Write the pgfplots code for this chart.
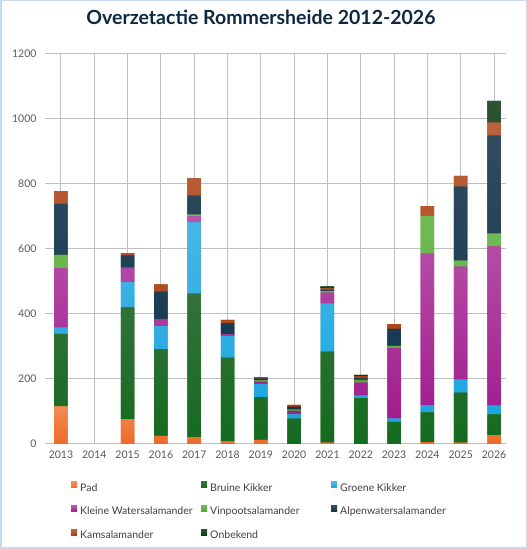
\documentclass[border=0pt]{standalone}
\usepackage{pgfplots}
\pgfplotsset{compat=1.18}
\usepackage{fontspec}
\setmainfont{Lato}
\definecolor{cPad}{HTML}{EE6A26}
\definecolor{cBruine}{HTML}{146B1E}
\definecolor{cGroene}{HTML}{1AA5DF}
\definecolor{cKleine}{HTML}{A01D8E}
\definecolor{cVin}{HTML}{4EAA2E}
\definecolor{cAlpen}{HTML}{0F3550}
\definecolor{cKams}{HTML}{A83C0C}
\definecolor{cOnb}{HTML}{0B3F12}
\definecolor{grid}{HTML}{D6E3F2}
\definecolor{frame}{HTML}{C5D9F1}
\definecolor{ticktext}{HTML}{595959}
\definecolor{legtext}{HTML}{404040}
\definecolor{titlec}{HTML}{0E2841}
\begin{document}
\begin{tikzpicture}[x=1pt,y=1pt]
\useasboundingbox (0,0) rectangle (527,549);
\fill[white] (0,0) rectangle (527,549);
\draw[frame, line width=1.5pt] (0.75,0.75) rectangle (526.25,548.25);
\begin{axis}[
  at={(45pt,105pt)}, anchor=south west,
  scale only axis, width=461pt, height=390pt,
  ybar stacked, bar width=13.5pt,
  xmin=-0.48, xmax=13.36, ymin=0, ymax=1200,
  xtick={0,...,13},
  xticklabels={2013,2014,2015,2016,2017,2018,2019,2020,2021,2022,2023,2024,2025,2026},
  ytick={0,200,...,1200},
  axis line style={draw=none},
  major tick style={draw=none},
  ymajorgrids, grid style={grid, line width=1pt},
  tick label style={font=\fontsize{10.5}{12}\selectfont, text=ticktext},
  /pgf/number format/assume math mode=true,
  /pgf/number format/1000 sep={},
  xticklabel style={yshift=-3pt},
  yticklabel style={xshift=-5pt},
  title={Overzetactie Rommersheide 2012-2026},
  title style={font=\fontsize{19.5}{22}\selectfont\bfseries, text=titlec, at={(0.4685,1)}, anchor=base, yshift=23.3pt},
  legend columns=3,
  legend style={draw=none, fill=none, at={(0.0564,-0.0967)}, anchor=north west,
    inner sep=0pt, row sep=12pt,
    nodes={inner sep=0pt, text height=8pt, text depth=2.5pt, font=\fontsize{10.5}{12}\selectfont, text=legtext},
    /tikz/every odd column/.append style={column sep=3pt}},
  legend image code/.code={\fill[#1] (0pt,0.5pt) rectangle (6pt,6.5pt);},
  every axis plot/.append style={draw=none},
]
\addplot[fill=cPad, top color=cPad!78!white, bottom color=cPad] coordinates {(0,116)(1,0)(2,76)(3,25)(4,20)(5,8)(6,13)(7,0)(8,4)(9,0)(10,0)(11,6)(12,4)(13,27)};
\addlegendentry{\makebox[121pt][l]{Pad}}
\addplot[fill=cBruine, top color=cBruine!70!gray, bottom color=cBruine] coordinates {(0,223)(1,0)(2,344)(3,267)(4,443)(5,258)(6,131)(7,78)(8,280)(9,141)(10,68)(11,91)(12,154)(13,64)};
\addlegendentry{\makebox[121pt][l]{Bruine Kikker}}
\addplot[fill=cGroene, top color=cGroene!80!white, bottom color=cGroene] coordinates {(0,19)(1,0)(2,77)(3,71)(4,219)(5,66)(6,40)(7,13)(8,148)(9,8)(10,10)(11,22)(12,40)(13,27)};
\addlegendentry{\makebox[121pt][l]{Groene Kikker}}
\addplot[fill=cKleine, top color=cKleine!75!white, bottom color=cKleine] coordinates {(0,183)(1,0)(2,46)(3,21)(4,18)(5,6)(6,8)(7,11)(8,34)(9,40)(10,217)(11,467)(12,348)(13,490)};
\addlegendentry{\makebox[121pt][l]{Kleine Watersalamander}}
\addplot[fill=cVin, top color=cVin!80!white, bottom color=cVin] coordinates {(0,41)(1,0)(2,0)(3,0)(4,6)(5,0)(6,4)(7,4)(8,4)(9,8)(10,7)(11,116)(12,18)(13,39)};
\addlegendentry{\makebox[121pt][l]{Vinpootsalamander}}
\addplot[fill=cAlpen, top color=cAlpen!70!gray, bottom color=cAlpen] coordinates {(0,157)(1,0)(2,37)(3,85)(4,58)(5,34)(6,5)(7,8)(8,4)(9,5)(10,52)(11,0)(12,228)(13,302)};
\addlegendentry{\makebox[121pt][l]{Alpenwatersalamander}}
\addplot[fill=cKams, top color=cKams!80!white, bottom color=cKams] coordinates {(0,39)(1,0)(2,7)(3,22)(4,54)(5,10)(6,5)(7,6)(8,5)(9,7)(10,15)(11,30)(12,33)(13,40)};
\addlegendentry{\makebox[121pt][l]{Kamsalamander}}
\addplot[fill=cOnb, top color=cOnb!70!gray, bottom color=cOnb] coordinates {(0,0)(1,0)(2,0)(3,0)(4,0)(5,0)(6,0)(7,0)(8,6)(9,4)(10,0)(11,0)(12,0)(13,67)};
\addlegendentry{\makebox[121pt][l]{Onbekend}}
\end{axis}
\end{tikzpicture}
\end{document}
